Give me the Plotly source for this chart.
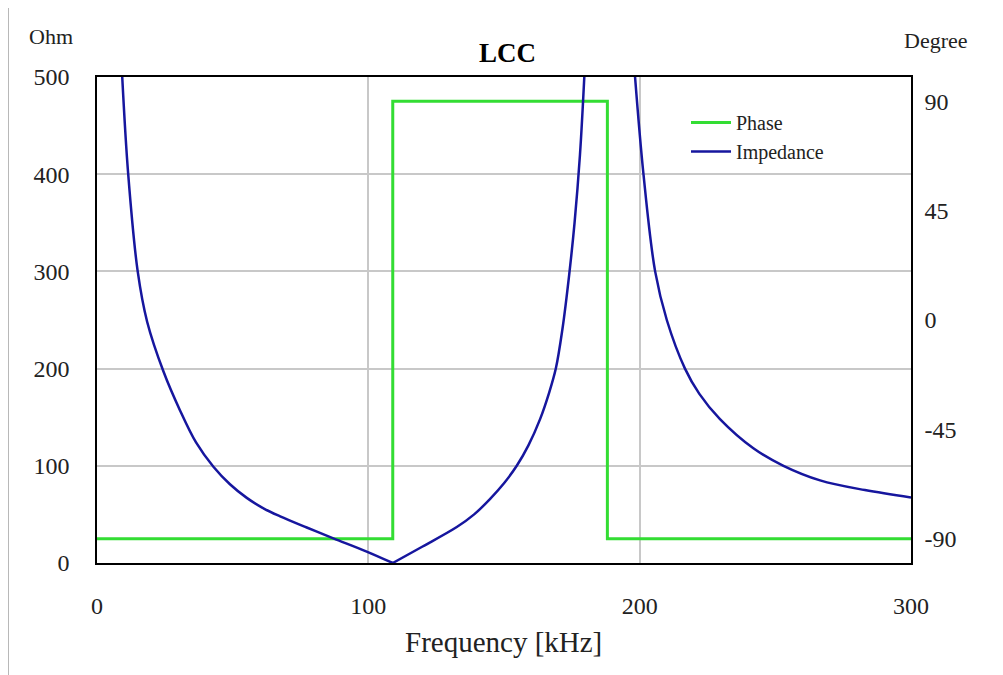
import plotly.graph_objects as go

# ---- data ----
freq_left = [9.3, 11.5, 15.0, 18.5, 24.5, 30.6, 36.5, 42.9, 49.0, 55.2, 61.5, 67.5, 77.3, 87.1, 99.4, 109.0]
imp_left = [500, 400, 300, 248, 197, 157, 124, 99, 81, 67, 56, 48, 36.5, 25.4, 11.8, 0]

freq_mid = [109.0, 120.0, 132.6, 139.0, 144.9, 150.0, 154.7, 159.0, 163.3, 166.5, 169.1, 171.5, 174.0, 176.0, 178.0, 179.6]
imp_mid = [0, 17, 37, 50, 66, 82, 100, 121, 148, 174, 200, 240, 296, 350, 420, 500]

freq_right = [198.3, 201.4, 205.7, 210.0, 216.7, 222.0, 229.6, 241.9, 253.0, 266.5, 283.0, 300.0]
imp_right = [500, 400, 300, 250, 200, 174, 148, 118, 100, 85, 75, 67.5]

phase_freq = [0, 109.0, 109.0, 188.1, 188.1, 300]
phase_deg = [-90, -90, 90, 90, -90, -90]

x_ticks = [0, 100, 200, 300]
ohm_ticks = [0, 100, 200, 300, 400, 500]
deg_ticks = [-90, -45, 0, 45, 90]
deg_labels = ["-90", "-45", "0", "45", "90"]

# three branches in one trace, separated by gaps so the V corner stays sharp
imp_freq = freq_left + [None] + freq_mid + [None] + freq_right
imp_vals = imp_left + [None] + imp_mid + [None] + imp_right

FONT = "Liberation Serif"
GREEN = "#33dd33"
BLUE = "#16169e"

# page body has an 8px margin: work in screenshot pixels, then offset
OFF = 8
W, H = 1003 - OFF, 675 - OFF
L, R, T, B = 97, 911, 77, 563  # plot area in screenshot pixels

fig = go.Figure()
fig.add_trace(go.Scatter(x=phase_freq, y=phase_deg, mode="lines", name="Phase",
                         line=dict(color=GREEN, width=3), yaxis="y"))
fig.add_trace(go.Scatter(x=imp_freq, y=imp_vals, mode="lines", name="Impedance",
                         line=dict(color=BLUE, width=2.5, shape="spline", smoothing=1.0),
                         yaxis="y2", connectgaps=False))


def px(x):
    return (x - L) / (R - L)


def py(y):
    return (B - y) / (B - T)


def ann(text, x, y, size, color="#222222"):
    return dict(text=text, x=px(x), y=py(y), xref="paper", yref="paper",
                xanchor="center", yanchor="middle", showarrow=False,
                font=dict(size=size, family=FONT, color=color))


fig.update_layout(
    width=W, height=H,
    margin=dict(l=L - OFF, r=1003 - R, t=T - OFF, b=675 - B),
    paper_bgcolor="white", plot_bgcolor="white",
    font=dict(family=FONT, size=24, color="#222222"),
    showlegend=True,
    legend=dict(x=px(686), y=py(103), xanchor="left", yanchor="top",
                bgcolor="rgba(0,0,0,0)", font=dict(size=20, family=FONT, color="#222222"),
                tracegroupgap=0, itemwidth=40),
    xaxis=dict(range=[0, 300], tickvals=x_ticks, showgrid=True, gridcolor="#c8c8c8",
               gridwidth=1.5, zeroline=False, showline=True, linecolor="black",
               linewidth=1.5, mirror=True, ticks="", ticklabelstandoff=20),
    yaxis=dict(range=[-100, 100], tickvals=deg_ticks, ticktext=deg_labels, side="right",
               showgrid=False, zeroline=False, showline=True, linecolor="black",
               linewidth=1.5, ticks="", ticklabelstandoff=7),
    yaxis2=dict(range=[0, 500], tickvals=ohm_ticks, side="left", overlaying="y",
                showgrid=True, gridcolor="#c8c8c8", gridwidth=1.5, zeroline=False,
                showline=True, linecolor="black", linewidth=1.5, ticks="",
                ticklabelstandoff=21),
    annotations=[
        ann("<b>LCC</b>", 507, 53, 27, "black"),
        ann("Ohm", 51, 36, 22),
        ann("Degree", 936, 41, 22),
        ann("Frequency [kHz]", 503, 642, 29),
    ],
    shapes=[
        dict(type="line", xref="paper", yref="paper", x0=px(8), x1=px(8),
             y0=py(5), y1=py(700), line=dict(color="#a0a0a0", width=1.5)),
        dict(type="line", xref="paper", yref="paper", x0=px(8), x1=px(1010),
             y0=py(5), y1=py(5), line=dict(color="#a0a0a0", width=1.5)),
    ],
)

fig.write_html("out.html")
